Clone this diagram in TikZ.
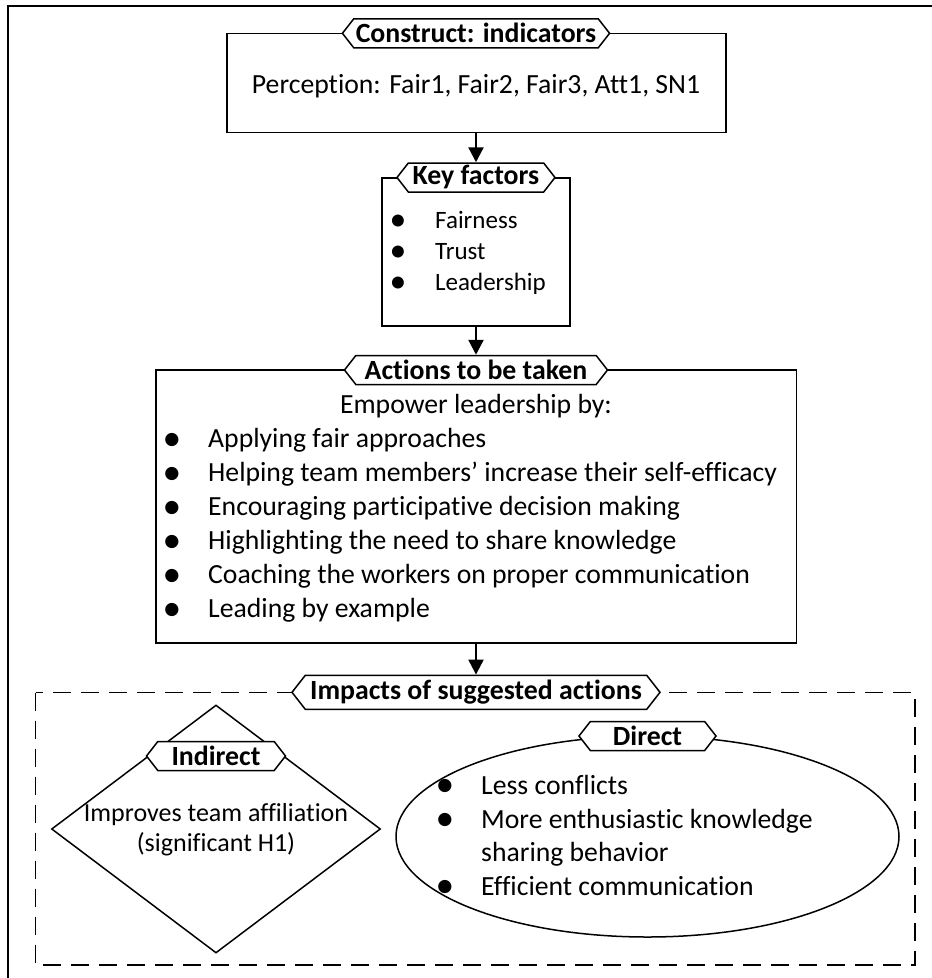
\documentclass[tikz,border=0pt]{standalone}
\usepackage{fontspec}
\setmainfont{Carlito}[Ligatures=NoCommon]
\usetikzlibrary{arrows.meta,shapes.geometric,shapes.symbols}
\newcommand\bul{\raisebox{-2.5pt}{\scalebox{1.35}{\textbullet}}}
\begin{document}
\begin{tikzpicture}[x=1pt,y=-1pt,
  frame/.style={draw, line width=1.8pt},
  box/.style={draw, line width=1.6pt, rectangle, fill=white, inner sep=0pt},
  tab/.style={draw, line width=1.5pt, fill=white, signal, signal to=west and east,
    signal pointer angle=104, inner xsep=2pt, inner ysep=0pt, minimum height=29pt,
    font=\fontsize{27.8}{30}\selectfont\bfseries},
  body/.style={font=\fontsize{27.7}{33}\selectfont, inner sep=0pt},
  small/.style={font=\fontsize{25}{30}\selectfont, inner sep=0pt},
  mid/.style={font=\fontsize{26}{30}\selectfont, inner sep=0pt},
  arr/.style={line width=2.3pt, -{Triangle[length=15pt,width=15pt]}},
  dashbox/.style={draw, line width=1.5pt, dash pattern=on 18pt off 10pt},
]
\useasboundingbox (0,0) rectangle (932,978);
\fill[white] (0,0) rectangle (932,978);

% outer frame (open to the right and bottom)
\draw[frame] (8,978) -- (8,6) -- (932,6);

% construct / indicators
\node[box, minimum width=499pt, minimum height=99pt] (ind) at (476.5,82.8) {};
\node[tab, minimum width=264pt] (indtab) at (476,33.3) {Construct: indicators};
\node[body, anchor=base] (indtxt) at (476,93) {Perception: Fair1, Fair2, Fair3, Att1, SN1};

% key factors
\node[box, minimum width=188pt, minimum height=148pt] (kf) at (476,251.7) {};
\node[tab, minimum width=158pt] (kftab) at (476,177.5) {Key factors};
\foreach \y/\t [count=\i] in {228/Fairness, 259/Trust, 290/Leadership}{
  \node[small, anchor=base] (kfb\i) at (398,\y) {\bul};
  \node[small, anchor=base west] (kft\i) at (435,\y) {\t};
}

% actions to be taken
\node[box, minimum width=640.6pt, minimum height=273pt] (act) at (476,506.5) {};
\node[tab, minimum width=263pt] (acttab) at (476,370) {Actions to be taken};
\node[body, anchor=base] (acthead) at (476,413) {Empower leadership by:};
\foreach \y/\t [count=\i] in {
  447.5/Applying fair approaches,
  481.5/Helping team members’ increase their self-efficacy,
  515.5/Encouraging participative decision making,
  549.5/Highlighting the need to share knowledge,
  583.5/Coaching the workers on proper communication,
  617.5/Leading by example}{
  \node[body, anchor=base] (actb\i) at (172,\y) {\bul};
  \node[body, anchor=base west] (actt\i) at (208,\y) {\t};
}

% impacts of suggested actions
\draw[dashbox] (35.7,692.7) rectangle (915,965);
\node[tab, minimum width=368pt, minimum height=34pt] (imptab) at (476,692.3) {Impacts of suggested actions};

% indirect impact
\node[draw, diamond, line width=1.5pt, minimum width=329pt, minimum height=248pt, inner sep=0pt] (indir) at (216,829) {};
\node[tab, minimum width=139pt, minimum height=29pt] (indirtab) at (216,756) {Indirect};
\node[mid, anchor=base] (indirt1) at (216,821.7) {Improves team affiliation};
\node[mid, anchor=base] (indirt2) at (216,851.7) {(significant H1)};

% direct impact
\node[draw, ellipse, line width=1.5pt, minimum width=503pt, minimum height=201pt, inner sep=0pt] (dir) at (647.5,836.5) {};
\node[tab, minimum width=137pt, minimum height=29pt] (dirtab) at (647.5,736) {Direct};
\node[body, anchor=base] (dirb1) at (445,794) {\bul};
\node[body, anchor=base west] (dirt1) at (481,794) {Less conflicts};
\node[body, anchor=base] (dirb2) at (445,828) {\bul};
\node[body, anchor=base west] (dirt2) at (481,828) {More enthusiastic knowledge};
\node[body, anchor=base west] (dirt2b) at (481,861) {sharing behavior};
\node[body, anchor=base] (dirb3) at (445,895) {\bul};
\node[body, anchor=base west] (dirt3) at (481,895) {Efficient communication};

% flow arrows
\draw[arr] (ind.south -| kftab.north) -- (kftab.north);
\draw[arr] (kf.south -| acttab.north) -- (acttab.north);
\draw[arr] (act.south -| imptab.north) -- (imptab.north);
\end{tikzpicture}
\end{document}
